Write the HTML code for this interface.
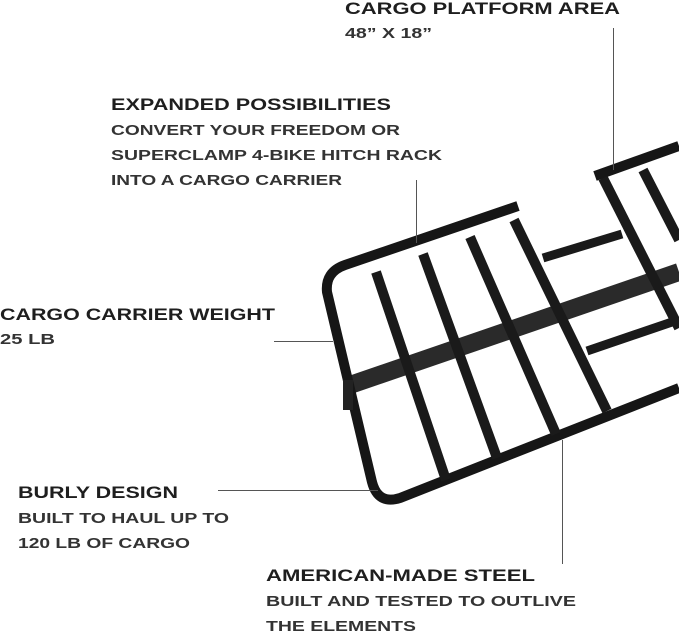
<!DOCTYPE html>
<html><head><meta charset="utf-8"><style>
html,body{margin:0;padding:0;background:#fff}
svg{display:block}
text{font-family:"Liberation Sans",sans-serif;fill:#1e1e1e;font-weight:bold}
.h{font-size:17px}
.b{font-size:14.5px;fill:#333}
</style></head><body>
<svg width="679" height="632" viewBox="0 0 679 632" xmlns="http://www.w3.org/2000/svg">
<g stroke-linecap="butt" fill="none">
<!-- middle cross beam -->
<line x1="350" y1="385" x2="679" y2="272" stroke="#2a2a2a" stroke-width="18"/>
<!-- right section short bars -->
<line x1="543" y1="258" x2="622" y2="234" stroke="#1a1a1a" stroke-width="9"/>
<line x1="587" y1="351" x2="675" y2="321" stroke="#1a1a1a" stroke-width="9"/>
<!-- left frame -->
<path d="M518 206 L345 265 Q325 272 327 292 L372 482 Q378 505 400 498 L679 388" stroke="#161616" stroke-width="10"/>
<!-- slats -->
<line x1="376" y1="272" x2="446" y2="480" stroke="#1a1a1a" stroke-width="10"/>
<line x1="423" y1="254" x2="497" y2="458" stroke="#1a1a1a" stroke-width="10"/>
<line x1="470" y1="237" x2="556" y2="434" stroke="#1a1a1a" stroke-width="10"/>
<line x1="514" y1="220" x2="607" y2="411" stroke="#1a1a1a" stroke-width="10"/>
<!-- right section -->
<line x1="595" y1="176" x2="679" y2="146" stroke="#161616" stroke-width="10"/>
<line x1="603" y1="178" x2="679" y2="328" stroke="#1a1a1a" stroke-width="10"/>
<line x1="643" y1="170" x2="679" y2="240" stroke="#1a1a1a" stroke-width="10"/>
<!-- hitch nub -->
<rect x="343" y="380" width="10" height="30" fill="#222"/>
</g>
<g stroke="#555" stroke-width="1">
<line x1="613.5" y1="28" x2="613.5" y2="170"/>
<line x1="416.5" y1="180" x2="416.5" y2="243"/>
<line x1="274" y1="341.5" x2="333" y2="341.5"/>
<line x1="218" y1="490.5" x2="378" y2="490.5"/>
<line x1="562.5" y1="440" x2="562.5" y2="564"/>
</g>
<text class="h" x="345" y="14" textLength="275" lengthAdjust="spacingAndGlyphs">CARGO PLATFORM AREA</text>
<text class="b" x="345" y="38" textLength="87" lengthAdjust="spacingAndGlyphs">48” X 18”</text>
<text class="h" x="111" y="110" textLength="280" lengthAdjust="spacingAndGlyphs">EXPANDED POSSIBILITIES</text>
<text class="b" x="111" y="135" textLength="289" lengthAdjust="spacingAndGlyphs">CONVERT YOUR FREEDOM OR</text>
<text class="b" x="111" y="160" textLength="331" lengthAdjust="spacingAndGlyphs">SUPERCLAMP 4-BIKE HITCH RACK</text>
<text class="b" x="111" y="185" textLength="231" lengthAdjust="spacingAndGlyphs">INTO A CARGO CARRIER</text>
<text class="h" x="0" y="320" textLength="275" lengthAdjust="spacingAndGlyphs">CARGO CARRIER WEIGHT</text>
<text class="b" x="0" y="344" textLength="55" lengthAdjust="spacingAndGlyphs">25 LB</text>
<text class="h" x="18" y="498" textLength="160" lengthAdjust="spacingAndGlyphs">BURLY DESIGN</text>
<text class="b" x="18" y="523" textLength="211" lengthAdjust="spacingAndGlyphs">BUILT TO HAUL UP TO</text>
<text class="b" x="18" y="548" textLength="172" lengthAdjust="spacingAndGlyphs">120 LB OF CARGO</text>
<text class="h" x="266" y="581" textLength="269" lengthAdjust="spacingAndGlyphs">AMERICAN-MADE STEEL</text>
<text class="b" x="266" y="606" textLength="310" lengthAdjust="spacingAndGlyphs">BUILT AND TESTED TO OUTLIVE</text>
<text class="b" x="266" y="631" textLength="150" lengthAdjust="spacingAndGlyphs">THE ELEMENTS</text>
</svg>
</body></html>
